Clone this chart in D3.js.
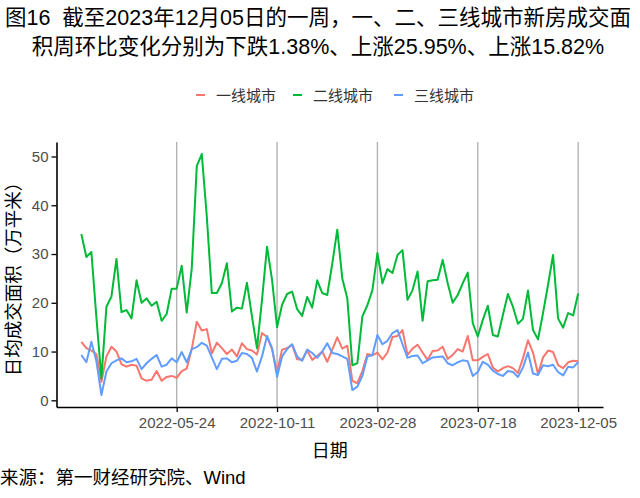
<!DOCTYPE html>
<html><head><meta charset="utf-8">
<script src="https://cdn.jsdelivr.net/npm/d3@7"></script>
<style>body{margin:0;background:#fff;} svg{display:block;} text{white-space:pre;}</style>
</head><body>
<svg id="c" width="640" height="498"></svg>
<script>
const dates = ["2022-01-11","2022-01-18","2022-01-25","2022-02-01","2022-02-08","2022-02-15","2022-02-22","2022-03-01","2022-03-08","2022-03-15",
"2022-03-22","2022-03-29","2022-04-05","2022-04-12","2022-04-19","2022-04-26","2022-05-03","2022-05-10","2022-05-17","2022-05-24",
"2022-05-31","2022-06-07","2022-06-14","2022-06-21","2022-06-28","2022-07-05","2022-07-12","2022-07-19","2022-07-26","2022-08-02",
"2022-08-09","2022-08-16","2022-08-23","2022-08-30","2022-09-06","2022-09-13","2022-09-20","2022-09-27","2022-10-04","2022-10-11",
"2022-10-18","2022-10-25","2022-11-01","2022-11-08","2022-11-15","2022-11-22","2022-11-29","2022-12-06","2022-12-13","2022-12-20",
"2022-12-27","2023-01-03","2023-01-10","2023-01-17","2023-01-24","2023-01-31","2023-02-07","2023-02-14","2023-02-21","2023-02-28",
"2023-03-07","2023-03-14","2023-03-21","2023-03-28","2023-04-04","2023-04-11","2023-04-18","2023-04-25","2023-05-02","2023-05-09",
"2023-05-16","2023-05-23","2023-05-30","2023-06-06","2023-06-13","2023-06-20","2023-06-27","2023-07-04","2023-07-11","2023-07-18",
"2023-07-25","2023-08-01","2023-08-08","2023-08-15","2023-08-22","2023-08-29","2023-09-05","2023-09-12","2023-09-19","2023-09-26",
"2023-10-03","2023-10-10","2023-10-17","2023-10-24","2023-10-31","2023-11-07","2023-11-14","2023-11-21","2023-11-28","2023-12-05"];

const tier1 = [12.0,10.7,10.2,9.5,3.8,9.0,11.0,10.0,7.4,6.9,
7.3,7.1,4.5,4.0,4.2,6.0,4.0,4.8,5.0,4.6,
6.0,6.5,10.5,16.1,14.3,14.6,9.6,11.8,10.7,9.5,
10.4,9.0,11.7,10.5,10.2,9.4,13.8,13.0,10.5,5.9,
10.4,10.7,11.4,8.4,8.3,10.2,8.3,9.1,10.0,7.9,
10.4,12.9,10.6,11.2,4.0,3.5,6.0,9.5,9.2,9.8,
8.4,9.8,13.0,13.2,14.4,9.3,10.6,11.4,9.8,8.3,
10.1,10.2,11.0,8.5,9.3,10.5,10.0,13.2,8.2,8.2,
8.9,9.5,6.7,5.9,6.6,7.0,6.6,5.6,8.6,12.3,
9.8,5.4,8.8,10.2,9.9,7.2,6.6,7.8,8.1,8.0];

const tier2 = [34.1,29.4,30.4,17.0,4.5,19.2,21.3,29.0,18.1,18.5,
16.8,24.6,20.0,20.9,19.4,20.2,16.3,17.7,22.9,22.9,
27.6,18.0,27.0,48.0,50.5,37.7,22.0,22.0,24.0,28.1,
18.2,19.0,18.8,24.1,17.2,10.7,20.6,31.5,24.7,15.0,
19.6,21.8,22.3,18.7,17.3,21.2,19.0,24.6,22.0,21.6,
28.0,35.0,25.0,20.9,7.2,7.6,17.2,19.5,22.6,30.2,
24.0,26.9,26.1,29.8,30.8,20.6,22.6,26.4,16.3,24.4,
24.6,24.7,28.8,24.0,20.0,21.6,24.0,26.2,15.8,13.1,
16.5,19.4,13.4,13.1,17.5,21.8,19.2,15.7,16.7,22.5,
14.4,12.5,17.9,23.7,29.8,16.8,14.9,17.9,17.4,21.9];

const tier3 = [9.3,7.8,12.0,8.0,1.1,5.9,7.6,8.2,8.6,7.8,
8.0,8.5,6.4,7.6,8.5,9.3,6.9,7.3,8.6,7.8,
9.9,7.8,10.5,10.9,11.8,11.2,8.8,6.4,8.5,8.6,
7.8,8.1,9.7,9.5,8.7,5.9,9.0,13.2,10.7,4.8,
9.0,10.5,11.5,9.0,8.1,10.4,9.7,8.7,10.0,11.7,
9.7,9.5,9.0,8.5,2.1,2.8,5.0,9.0,9.3,13.4,
11.5,12.2,13.8,14.4,11.5,8.7,9.1,9.2,7.6,8.2,
8.8,8.9,9.0,7.6,7.2,7.8,8.2,8.0,5.0,5.8,
7.9,7.3,6.1,5.4,5.0,6.0,5.8,4.8,6.7,9.8,
5.5,5.2,7.2,7.0,7.3,5.8,5.1,6.9,6.75,7.8];

const seriesNames = ["一线城市","二线城市","三线城市"];
const xTickLabels = ["2022-05-24","2022-10-11","2023-02-28","2023-07-18","2023-12-05"];
const yTickLabels = [0,10,20,30,40,50];
const titleLines = ["图16  截至2023年12月05日的一周，一、二、三线城市新房成交面","积周环比变化分别为下跌1.38%、上涨25.95%、上涨15.82%"];
const xTitle = "日期";
const yTitle = "日均成交面积（万平米）";
const sourceText = "来源：第一财经研究院、Wind";

const colors = ["#F8766D","#00BA38","#619CFF"];
const parse = d3.timeParse("%Y-%m-%d");
const fmt = d3.timeFormat("%Y-%m-%d");
const T = dates.map(parse);
const allSeries = [tier1, tier2, tier3];

const svg = d3.select("#c");
const FONT = "'Liberation Sans','Noto Sans CJK SC',sans-serif";
const L = 56.5, R = 603, TOP = 142, BOT = 407;

const tExt = d3.extent(T);
const span = tExt[1] - tExt[0];
const x = d3.scaleTime()
  .domain([new Date(+tExt[0] - 0.05*span), new Date(+tExt[1] + 0.05*span)])
  .range([L, R]);
const allV = allSeries.flat();
const vMin = d3.min(allV), vMax = d3.max(allV), vs = vMax - vMin;
const y = d3.scaleLinear().domain([vMin - 0.05*vs, vMax + 0.05*vs]).range([BOT, TOP]);

// gridlines
svg.append("g").selectAll("line").data(xTickLabels.map(parse)).join("line")
  .attr("x1", d => x(d)).attr("x2", d => x(d))
  .attr("y1", TOP).attr("y2", BOT)
  .attr("stroke", "#b3b3b3").attr("stroke-width", 1.4);

// lines
const line = d3.line().x((d,i) => x(T[i])).y(d => y(d));
allSeries.forEach((s, k) => {
  svg.append("path").datum(s).attr("d", line)
    .attr("fill", "none").attr("stroke", colors[k])
    .attr("stroke-width", 2).attr("stroke-linejoin", "round");
});

// axes
const xAxis = svg.append("g").attr("transform", `translate(0,${BOT})`)
  .call(d3.axisBottom(x).tickValues(xTickLabels.map(parse)).tickFormat(fmt).tickSize(5).tickSizeOuter(0));
const yAxis = svg.append("g").attr("transform", `translate(${L},0)`)
  .call(d3.axisLeft(y).tickValues(yTickLabels).tickSize(5).tickSizeOuter(0));
[xAxis, yAxis].forEach(g => {
  g.select(".domain").attr("stroke", "#000").attr("stroke-width", 1.6);
  g.selectAll(".tick line").attr("stroke", "#000").attr("stroke-width", 1.3);
  g.selectAll(".tick text").attr("fill", "#4d4d4d").style("font-family", FONT).style("font-size", "15px");
});
xAxis.selectAll(".tick text").attr("dy", "0.95em").attr("y", 7);
yAxis.selectAll(".tick text").attr("x", -8);

// titles
titleLines.forEach((t, i) => {
  svg.append("text").attr("x", 318).attr("y", 25 + i*29).attr("text-anchor", "middle")
    .style("font-family", FONT).style("font-size", "21.5px").attr("fill", "#000").text(t);
});
svg.append("text").attr("x", (L+R)/2).attr("y", 457).attr("text-anchor", "middle")
  .style("font-family", FONT).style("font-size", "18px").text(xTitle);
svg.append("text").attr("transform", `translate(20,${(TOP+BOT)/2}) rotate(-90)`)
  .attr("text-anchor", "middle").style("font-family", FONT).style("font-size", "18.5px").text(yTitle);
svg.append("text").attr("x", 0).attr("y", 484)
  .style("font-family", FONT).style("font-size", "18.5px").text(sourceText);

// legend
const legX = [196, 293, 394];
seriesNames.forEach((n, k) => {
  svg.append("line").attr("x1", legX[k]).attr("x2", legX[k] + 9).attr("y1", 95).attr("y2", 95)
    .attr("stroke", colors[k]).attr("stroke-width", 2);
  svg.append("text").attr("x", legX[k] + 20).attr("y", 100.5)
    .style("font-family", FONT).style("font-size", "15px").attr("fill", "#333").text(n);
});
</script>
</body></html>
